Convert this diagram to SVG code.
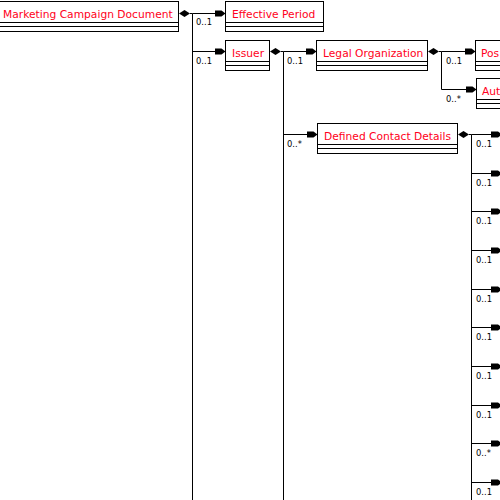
<svg xmlns="http://www.w3.org/2000/svg" width="500" height="500" viewBox="0 0 500 500">
<style>
.box{fill:#fff;stroke:#000;stroke-width:1}
.sep{stroke:#000;stroke-width:1}
.name{font-family:"DejaVu Sans",sans-serif;font-size:10.7px;fill:#ff0020}
.lbl{font-family:"DejaVu Sans",sans-serif;font-size:8.4px;fill:#000}
.ln{stroke:#000;stroke-width:1;fill:none}
.dia{fill:#000}
</style>
<defs>
<marker id="arr" markerUnits="userSpaceOnUse" markerWidth="12" markerHeight="8" refX="11" refY="4" orient="auto">
<path d="M0,1 L7,1 L11,4 L7,7 L0,7 Z" fill="#000"/>
</marker>
</defs>
<rect width="500" height="500" fill="#fff"/>
<g id="connectors">
<polygon class="dia" points="179,13.5 184.5,10 190,13.5 184.5,17"/>
<path class="ln" d="M190,13.5 H192.5 M192.5,13.5 V500"/>
<path class="ln" d="M192.5,13.5 H225.5" marker-end="url(#arr)"/>
<text class="lbl" x="196" y="25">0..1</text>
<path class="ln" d="M192.5,51.5 H225.5" marker-end="url(#arr)"/>
<text class="lbl" x="196" y="64">0..1</text>
<polygon class="dia" points="270,51.5 275.5,48 281,51.5 275.5,55"/>
<path class="ln" d="M281,51.5 H283.5 M283.5,51.5 V500"/>
<path class="ln" d="M283.5,51.5 H316.5" marker-end="url(#arr)"/>
<text class="lbl" x="287" y="64">0..1</text>
<path class="ln" d="M283.5,134.5 H317.5" marker-end="url(#arr)"/>
<text class="lbl" x="287" y="147">0..*</text>
<polygon class="dia" points="428,51.5 433.5,48 439,51.5 433.5,55"/>
<path class="ln" d="M439,51.5 H441.5 M441.5,51.5 V89.5"/>
<path class="ln" d="M441.5,51.5 H475.5" marker-end="url(#arr)"/>
<text class="lbl" x="446" y="64">0..1</text>
<path class="ln" d="M441.5,89.5 H476.5" marker-end="url(#arr)"/>
<text class="lbl" x="446" y="102">0..*</text>
<polygon class="dia" points="458,134.5 463.5,131 469,134.5 463.5,138"/>
<path class="ln" d="M469,134.5 H471.5 M471.5,134.5 V500"/>
<path class="ln" d="M471.5,134.5 H502" marker-end="url(#arr)"/>
<text class="lbl" x="476" y="147">0..1</text>
<path class="ln" d="M471.5,173.5 H502" marker-end="url(#arr)"/>
<text class="lbl" x="476" y="186">0..1</text>
<path class="ln" d="M471.5,211.5 H502" marker-end="url(#arr)"/>
<text class="lbl" x="476" y="224">0..1</text>
<path class="ln" d="M471.5,250.5 H502" marker-end="url(#arr)"/>
<text class="lbl" x="476" y="263">0..1</text>
<path class="ln" d="M471.5,289.5 H502" marker-end="url(#arr)"/>
<text class="lbl" x="476" y="302">0..1</text>
<path class="ln" d="M471.5,327.5 H502" marker-end="url(#arr)"/>
<text class="lbl" x="476" y="340">0..1</text>
<path class="ln" d="M471.5,366.5 H502" marker-end="url(#arr)"/>
<text class="lbl" x="476" y="379">0..1</text>
<path class="ln" d="M471.5,405.5 H502" marker-end="url(#arr)"/>
<text class="lbl" x="476" y="418">0..1</text>
<path class="ln" d="M471.5,443.5 H502" marker-end="url(#arr)"/>
<text class="lbl" x="476" y="456">0..*</text>
<path class="ln" d="M471.5,482.5 H502" marker-end="url(#arr)"/>
<text class="lbl" x="476" y="495">0..1</text>
</g>
<g id="marketing-campaign-document">
<rect class="box" x="-1.5" y="1.5" width="180" height="30"/>
<path class="sep" d="M-2,22.5 H178.5 M-2,26.5 H178.5"/>
<text class="name" x="3" y="17.5">Marketing Campaign Document</text>
</g>
<g id="effective-period">
<rect class="box" x="225.5" y="1.5" width="98" height="30"/>
<path class="sep" d="M225.5,22.5 H323.5 M225.5,26.5 H323.5"/>
<text class="name" x="232" y="17.5">Effective Period</text>
</g>
<g id="issuer">
<rect class="box" x="225.5" y="40.5" width="44" height="30"/>
<path class="sep" d="M225.5,61.5 H269.5 M225.5,65.5 H269.5"/>
<text class="name" x="232" y="56.5">Issuer</text>
</g>
<g id="legal-organization">
<rect class="box" x="316.5" y="40.5" width="111" height="30"/>
<path class="sep" d="M316.5,61.5 H427.5 M316.5,65.5 H427.5"/>
<text class="name" x="323" y="56.5">Legal Organization</text>
</g>
<g id="pos">
<rect class="box" x="475.5" y="40.5" width="60" height="30"/>
<path class="sep" d="M475.5,61.5 H535 M475.5,65.5 H535"/>
<text class="name" x="481" y="56.5">Pos</text>
</g>
<g id="aut">
<rect class="box" x="476.5" y="78.5" width="60" height="30"/>
<path class="sep" d="M476.5,99.5 H536 M476.5,103.5 H536"/>
<text class="name" x="482" y="94.5">Aut</text>
</g>
<g id="defined-contact-details">
<rect class="box" x="317.5" y="123.5" width="140" height="30"/>
<path class="sep" d="M317.5,144.5 H457.5 M317.5,148.5 H457.5"/>
<text class="name" x="324" y="139.5">Defined Contact Details</text>
</g>
</svg>
